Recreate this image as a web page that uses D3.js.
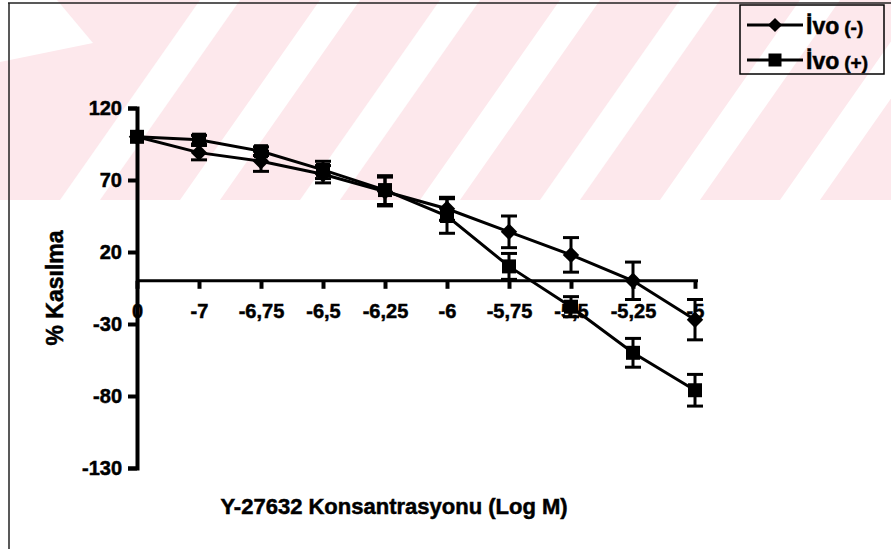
<!DOCTYPE html>
<html>
<head>
<meta charset="utf-8">
<script src="https://cdn.jsdelivr.net/npm/d3@7"></script>
<style>
  body { margin: 0; background: #fff; }
  svg { display: block; font-family: "Liberation Sans", Arial, sans-serif; font-weight: bold; }
  text { fill: #000; stroke: #000; stroke-width: 0.5px; }
</style>
</head>
<body>
<svg></svg>
<script>

var categories = ["0", "-7", "-6,75", "-6,5", "-6,25", "-6", "-5,75", "-5,5", "-5,25", "-5"];

var ivoMinus = [100, 89, 83, 74, 62, 50, 34, 18, 0, -27];
var ivoMinusErr = [0, 5, 7, 6, 10, 8, 11, 12, 13, 14];

var ivoPlus = [100, 98, 90, 77, 63, 45, 10, -18, -50, -76];
var ivoPlusErr = [0, 3, 3, 6, 10, 12, 9, 7, 10, 11];

var yTicks = [-130, -80, -30, 20, 70, 120];

var svgWidth = 891, svgHeight = 549;

var svg = d3.select('svg')
    .attr("width", svgWidth)
    .attr("height", svgHeight);

// faint pink watermark in the top band
var pink = "#fde8ec";
var wm = svg.append("g");
wm.append("rect")
    .attr("x", 0).attr("y", 0)
    .attr("width", svgWidth).attr("height", 200)
    .style("fill", pink);
var stripeStarts = d3.range(60, 1000, 120);
wm.selectAll("polygon.stripe")
    .data(stripeStarts)
    .enter()
    .append("polygon")
    .attr("class", "stripe")
    .attr("points", function (s) {
        return [[s, 200], [s + 40, 200], [s + 40 + 140, 0], [s + 140, 0]].join(" ");
    })
    .style("fill", "#fff");
wm.append("polygon")
    .attr("points", "0,0 57,0 93,43 0,62")
    .style("fill", "#fff");

// frame of the chart area
svg.append("line")
    .attr("x1", 8).attr("y1", 3).attr("x2", svgWidth).attr("y2", 3)
    .style("stroke", "#222").style("stroke-width", 1.5);
svg.append("line")
    .attr("x1", 9).attr("y1", 3).attr("x2", 9).attr("y2", svgHeight)
    .style("stroke", "#222").style("stroke-width", 1.5);

var x = d3.scalePoint()
    .domain(categories)
    .range([137, 695])
    .padding(0);

var y = d3.scaleLinear()
    .domain([-130, 120])
    .range([468, 108]);

// x axis at y = 0
var xAxis = svg.append("g")
    .attr("transform", "translate(0," + y(0) + ")")
    .call(d3.axisBottom(x).tickSizeOuter(0).tickSize(8).tickPadding(15));
xAxis.select(".domain")
    .attr("d", "M" + x.range()[0] + ",0H" + (x.range()[1] + 3))
    .style("stroke", "#000").style("stroke-width", 3);
xAxis.selectAll(".tick line")
    .style("stroke", "#000").style("stroke-width", 4);
xAxis.selectAll(".tick text")
    .style("font-size", "20px").style("font-weight", "bold")
    .style("font-family", "Liberation Sans, Arial, sans-serif");

var yAxis = svg.append("g")
    .attr("transform", "translate(137,0)")
    .call(d3.axisLeft(y).tickValues(yTicks).tickFormat(function (d) { return String(d); })
        .tickSizeOuter(0).tickSize(9).tickPadding(6));
yAxis.select(".domain")
    .style("stroke", "#000").style("stroke-width", 4);
yAxis.selectAll(".tick line")
    .style("stroke", "#000").style("stroke-width", 4);
yAxis.selectAll(".tick text")
    .style("font-size", "20px").style("font-weight", "bold")
    .style("font-family", "Liberation Sans, Arial, sans-serif");

svg.append("text")
    .attr("transform", "translate(63,288) rotate(-90)")
    .attr("text-anchor", "middle")
    .style("font-size", "23px")
    .text("% Kasılma");

svg.append("text")
    .attr("x", 394).attr("y", 514)
    .attr("text-anchor", "middle")
    .style("font-size", "22px")
    .text("Y-27632 Konsantrasyonu (Log M)");

var line = d3.line()
    .x(function (d, i) { return x(categories[i]); })
    .y(function (d) { return y(d); });

var series = [
    { values: ivoMinus, err: ivoMinusErr, shape: "diamond" },
    { values: ivoPlus, err: ivoPlusErr, shape: "square" }
];

var diamond = d3.symbol().type(d3.symbolSquare).size(135);
var square = d3.symbol().type(d3.symbolSquare).size(196);

series.forEach(function (s) {
    svg.append("path")
        .datum(s.values)
        .attr("d", line)
        .style("fill", "none")
        .style("stroke", "#000")
        .style("stroke-width", 3);

    var eb = svg.append("g");
    eb.selectAll("line.bar")
        .data(s.values)
        .enter()
        .append("line")
        .attr("x1", function (d, i) { return x(categories[i]); })
        .attr("x2", function (d, i) { return x(categories[i]); })
        .attr("y1", function (d, i) { return y(d + s.err[i]); })
        .attr("y2", function (d, i) { return y(d - s.err[i]); })
        .style("stroke", "#000").style("stroke-width", 3);
    [1, -1].forEach(function (sign) {
        eb.selectAll("line.cap" + sign)
            .data(s.values)
            .enter()
            .append("line")
            .attr("x1", function (d, i) { return x(categories[i]) - 8; })
            .attr("x2", function (d, i) { return x(categories[i]) + 8; })
            .attr("y1", function (d, i) { return y(d + sign * s.err[i]); })
            .attr("y2", function (d, i) { return y(d + sign * s.err[i]); })
            .style("stroke", "#000").style("stroke-width", 3)
            .style("opacity", function (d, i) { return s.err[i] > 0 ? 1 : 0; });
    });

    svg.selectAll("path.m-" + s.shape)
        .data(s.values)
        .enter()
        .append("path")
        .attr("class", "m-" + s.shape)
        .attr("d", s.shape === "diamond" ? diamond : square)
        .attr("transform", function (d, i) {
            return "translate(" + x(categories[i]) + "," + y(d) + ")" + (s.shape === "diamond" ? " rotate(45)" : "");
        })
        .style("fill", "#000");
});

// legend
var legend = svg.append("g");
legend.append("rect")
    .attr("x", 740).attr("y", 5)
    .attr("width", 144).attr("height", 69)
    .style("fill", "none").style("stroke", "#000").style("stroke-width", 1.5);

var legendItems = [
    { label: "İvo", sign: "(-)", shape: "diamond", y: 25 },
    { label: "İvo", sign: "(+)", shape: "square", y: 60 }
];
legendItems.forEach(function (item) {
    legend.append("line")
        .attr("x1", 747).attr("x2", 803)
        .attr("y1", item.y).attr("y2", item.y)
        .style("stroke", "#000").style("stroke-width", 3);
    legend.append("path")
        .attr("d", item.shape === "diamond" ? d3.symbol().type(d3.symbolSquare).size(100) : d3.symbol().type(d3.symbolSquare).size(169))
        .attr("transform", "translate(775," + item.y + ")" + (item.shape === "diamond" ? " rotate(45)" : ""))
        .style("fill", "#000");
    var t = legend.append("text")
        .attr("x", 806).attr("y", item.y + 9);
    t.append("tspan").style("font-size", "23px").text(item.label);
    t.append("tspan").style("font-size", "19px").attr("dx", 5).text(item.sign);
});

</script>
</body>
</html>
